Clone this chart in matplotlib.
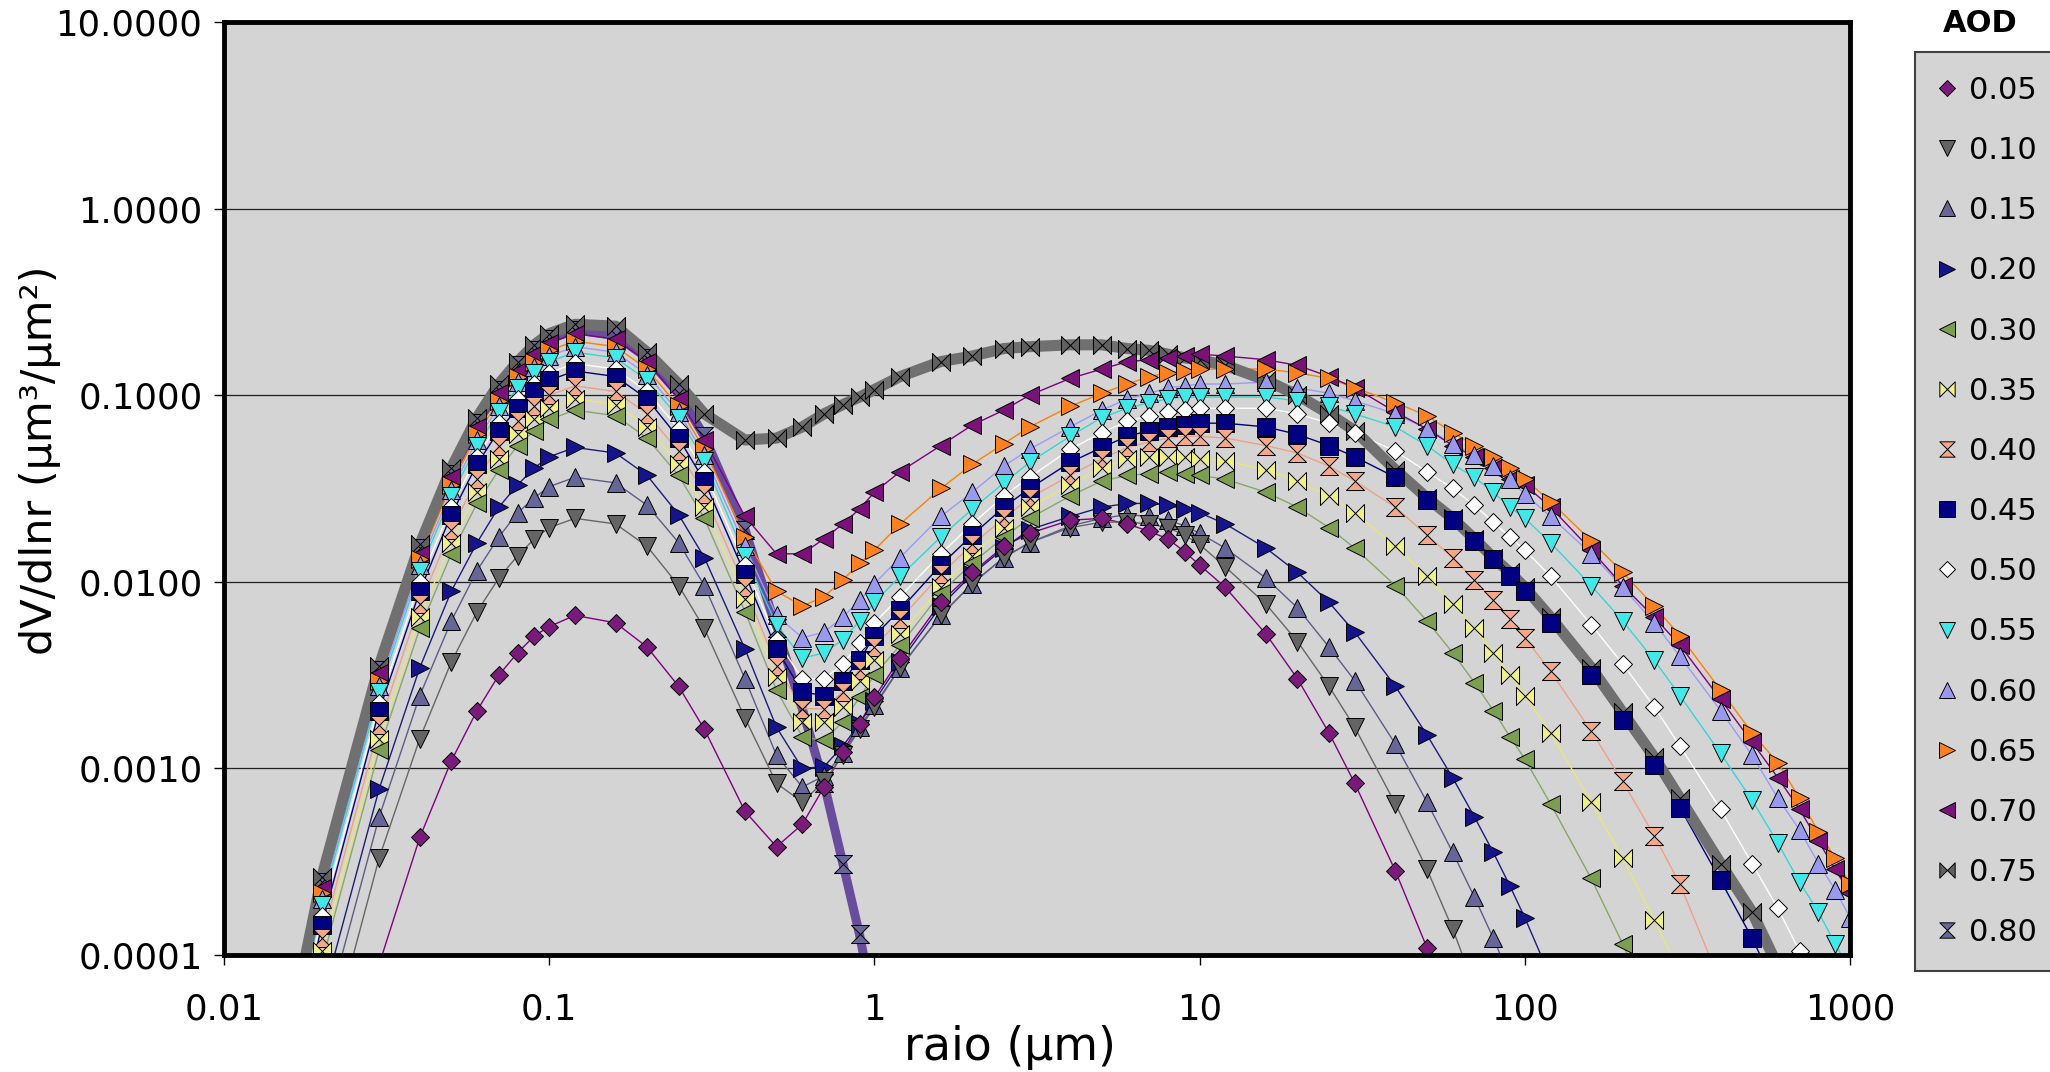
import numpy as np
import matplotlib
matplotlib.use("Agg")
import matplotlib.pyplot as plt
from matplotlib.path import Path
from matplotlib.lines import Line2D
from matplotlib.ticker import NullLocator

nan = np.nan

# raio (um) - pontos comuns a todas as curvas
raio = [0.016, 0.02, 0.03, 0.04, 0.05, 0.06, 0.07, 0.08, 0.09,
        0.1, 0.12, 0.16, 0.2, 0.25, 0.3, 0.4, 0.5, 0.6, 0.7, 0.8, 0.9,
        1, 1.2, 1.6, 2, 2.5, 3, 4, 5, 6, 7, 8, 9,
        10, 12, 16, 20, 25, 30, 40, 50, 60, 70, 80, 90,
        100, 120, 160, 200, 250, 300, 400, 500, 600, 700, 800, 900, 1000]

# log10(dV/dlnr) (nan = fora da area do grafico)
aod_005 = [nan, nan, -4.05, -3.37, -2.96, -2.69, -2.50, -2.38, -2.29,
           -2.24, -2.18, -2.22, -2.35, -2.56, -2.79, -3.23, -3.42, -3.30, -3.10, -2.91, -2.76,
           -2.62, -2.41, -2.11, -1.95, -1.81, -1.74, -1.67, -1.66, -1.69, -1.73, -1.77, -1.84,
           -1.91, -2.03, -2.28, -2.52, -2.81, -3.08, -3.55, -3.96, -4.35, nan, nan, nan,
           nan, nan, nan, nan, nan, nan, nan, nan, nan, nan, nan, nan, nan]
aod_010 = [nan, -4.63, -3.48, -2.84, -2.43, -2.16, -1.98, -1.86, -1.77,
           -1.71, -1.66, -1.69, -1.81, -2.02, -2.25, -2.73, -3.08, -3.18, -3.07, -2.93, -2.79,
           -2.67, -2.46, -2.18, -2.01, -1.87, -1.79, -1.71, -1.68, -1.68, -1.69, -1.71, -1.75,
           -1.80, -1.92, -2.12, -2.32, -2.56, -2.78, -3.19, -3.54, -3.86, -4.17, nan, nan,
           nan, nan, nan, nan, nan, nan, nan, nan, nan, nan, nan, nan, nan]
aod_015 = [nan, -4.40, -3.26, -2.61, -2.21, -1.94, -1.76, -1.63, -1.55,
           -1.49, -1.44, -1.47, -1.59, -1.79, -2.02, -2.52, -2.93, -3.10, -3.04, -2.92, -2.78,
           -2.66, -2.46, -2.18, -2.01, -1.87, -1.79, -1.70, -1.66, -1.64, -1.65, -1.67, -1.70,
           -1.74, -1.82, -1.98, -2.14, -2.35, -2.53, -2.87, -3.18, -3.45, -3.69, -3.91, -4.12,
           nan, nan, nan, nan, nan, nan, nan, nan, nan, nan, nan, nan, nan]
aod_020 = [nan, -4.25, -3.11, -2.46, -2.05, -1.79, -1.60, -1.48, -1.39,
           -1.33, -1.28, -1.31, -1.43, -1.64, -1.87, -2.36, -2.78, -3.00, -2.99, -2.88, -2.76,
           -2.64, -2.43, -2.13, -1.96, -1.82, -1.72, -1.65, -1.60, -1.58, -1.58, -1.59, -1.61,
           -1.63, -1.69, -1.82, -1.95, -2.11, -2.27, -2.56, -2.82, -3.05, -3.26, -3.45, -3.63,
           -3.80, -4.12, nan, nan, nan, nan, nan, nan, nan, nan, nan, nan, nan]
aod_030 = [-4.80, -4.04, -2.90, -2.25, -1.85, -1.58, -1.40, -1.27, -1.19,
           -1.13, -1.08, -1.11, -1.23, -1.43, -1.66, -2.16, -2.58, -2.83, -2.85, -2.75, -2.62,
           -2.50, -2.34, -2.06, -1.90, -1.76, -1.66, -1.54, -1.46, -1.43, -1.42, -1.41, -1.42,
           -1.43, -1.45, -1.52, -1.60, -1.71, -1.82, -2.02, -2.21, -2.38, -2.54, -2.69, -2.83,
           -2.95, -3.19, -3.59, -3.94, -4.35, nan, nan, nan, nan, nan, nan, nan, nan]
aod_035 = [-4.74, -3.98, -2.84, -2.19, -1.79, -1.52, -1.34, -1.21, -1.13,
           -1.07, -1.02, -1.05, -1.17, -1.37, -1.60, -2.09, -2.51, -2.75, -2.75, -2.67, -2.53,
           -2.42, -2.28, -2.03, -1.86, -1.71, -1.60, -1.48, -1.39, -1.34, -1.33, -1.33, -1.33,
           -1.34, -1.35, -1.40, -1.46, -1.54, -1.63, -1.81, -1.97, -2.12, -2.25, -2.38, -2.50,
           -2.61, -2.81, -3.18, -3.48, -3.81, -4.10, nan, nan, nan, nan, nan, nan, nan]
aod_040 = [-4.67, -3.91, -2.77, -2.12, -1.72, -1.45, -1.27, -1.14, -1.06,
           -1.00, -0.95, -0.98, -1.10, -1.30, -1.53, -2.03, -2.45, -2.68, -2.68, -2.59, -2.47,
           -2.35, -2.20, -1.96, -1.80, -1.66, -1.55, -1.43, -1.34, -1.28, -1.25, -1.23, -1.22,
           -1.22, -1.23, -1.27, -1.31, -1.38, -1.46, -1.60, -1.75, -1.87, -1.99, -2.10, -2.20,
           -2.30, -2.48, -2.80, -3.07, -3.36, -3.62, -4.15, nan, nan, nan, nan, nan, nan]
aod_045 = [-4.59, -3.84, -2.69, -2.05, -1.64, -1.37, -1.19, -1.07, -0.98,
           -0.92, -0.87, -0.90, -1.02, -1.23, -1.46, -1.96, -2.36, -2.59, -2.61, -2.53, -2.42,
           -2.29, -2.15, -1.91, -1.75, -1.60, -1.50, -1.36, -1.28, -1.22, -1.19, -1.17, -1.16,
           -1.15, -1.15, -1.17, -1.21, -1.27, -1.33, -1.44, -1.56, -1.67, -1.78, -1.88, -1.97,
           -2.05, -2.22, -2.50, -2.74, -2.98, -3.21, -3.60, -3.91, -4.20, nan, nan, nan, nan]
aod_050 = [-4.55, -3.79, -2.65, -2.00, -1.60, -1.33, -1.15, -1.02, -0.94,
           -0.88, -0.83, -0.86, -0.98, -1.18, -1.41, -1.91, -2.31, -2.52, -2.52, -2.44, -2.33,
           -2.22, -2.08, -1.85, -1.69, -1.54, -1.44, -1.29, -1.20, -1.14, -1.11, -1.09, -1.08,
           -1.07, -1.07, -1.07, -1.10, -1.15, -1.20, -1.30, -1.41, -1.50, -1.59, -1.68, -1.76,
           -1.83, -1.97, -2.23, -2.44, -2.67, -2.88, -3.22, -3.51, -3.75, -3.98, -4.20, nan, nan]
aod_055 = [-4.49, -3.73, -2.59, -1.94, -1.54, -1.27, -1.09, -0.96, -0.88,
           -0.82, -0.77, -0.80, -0.92, -1.12, -1.35, -1.86, -2.23, -2.41, -2.38, -2.31, -2.21,
           -2.11, -1.97, -1.76, -1.61, -1.47, -1.36, -1.22, -1.12, -1.07, -1.04, -1.02, -1.01,
           -1.01, -1.01, -1.01, -1.03, -1.06, -1.10, -1.17, -1.27, -1.37, -1.44, -1.52, -1.60,
           -1.66, -1.79, -2.02, -2.21, -2.42, -2.61, -2.92, -3.17, -3.40, -3.61, -3.77, -3.94, -4.08]
aod_060 = [-4.46, -3.70, -2.56, -1.91, -1.51, -1.24, -1.06, -0.93, -0.85,
           -0.79, -0.74, -0.77, -0.89, -1.09, -1.32, -1.81, -2.18, -2.30, -2.27, -2.19, -2.10,
           -2.01, -1.87, -1.65, -1.52, -1.38, -1.29, -1.17, -1.08, -1.02, -0.99, -0.96, -0.95,
           -0.94, -0.94, -0.93, -0.96, -0.99, -1.03, -1.10, -1.18, -1.26, -1.32, -1.38, -1.45,
           -1.53, -1.65, -1.85, -2.03, -2.22, -2.40, -2.69, -2.93, -3.16, -3.33, -3.51, -3.65, -3.80]
aod_065 = [-4.43, -3.67, -2.53, -1.88, -1.48, -1.21, -1.03, -0.90, -0.82,
           -0.76, -0.71, -0.74, -0.86, -1.06, -1.29, -1.76, -2.05, -2.13, -2.08, -1.99, -1.90,
           -1.83, -1.69, -1.50, -1.37, -1.26, -1.17, -1.06, -0.99, -0.94, -0.90, -0.88, -0.87,
           -0.86, -0.86, -0.86, -0.88, -0.91, -0.96, -1.04, -1.11, -1.20, -1.27, -1.33, -1.39,
           -1.45, -1.57, -1.78, -1.95, -2.13, -2.29, -2.58, -2.81, -2.97, -3.16, -3.34, -3.48, -3.62]
aod_070 = [-4.39, -3.64, -2.49, -1.85, -1.44, -1.17, -0.99, -0.87, -0.78,
           -0.72, -0.67, -0.70, -0.82, -1.02, -1.24, -1.65, -1.85, -1.85, -1.77, -1.69, -1.61,
           -1.52, -1.41, -1.27, -1.16, -1.08, -1.00, -0.91, -0.86, -0.82, -0.81, -0.80, -0.79,
           -0.78, -0.79, -0.81, -0.84, -0.90, -0.96, -1.09, -1.18, -1.27, -1.33, -1.39, -1.45,
           -1.48, -1.60, -1.83, -2.02, -2.19, -2.34, -2.63, -2.86, -3.05, -3.22, -3.39, -3.54, -3.67]
aod_075 = [-4.40, -3.58, -2.45, -1.80, -1.39, -1.12, -0.94, -0.82, -0.73,
           -0.67, -0.62, -0.63, -0.77, -0.94, -1.10, -1.24, -1.23, -1.17, -1.10, -1.05, -1.01,
           -0.97, -0.90, -0.82, -0.79, -0.75, -0.74, -0.73, -0.73, -0.75, -0.76, -0.78, -0.80,
           -0.81, -0.84, -0.92, -1.00, -1.10, -1.19, -1.40, -1.55, -1.66, -1.77, -1.87, -1.95,
           -2.03, -2.19, -2.46, -2.70, -2.94, -3.16, -3.51, -3.77, -4.06, nan, nan, nan, nan]
aod_080 = [-4.37, -3.61, -2.47, -1.82, -1.42, -1.15, -0.97, -0.84, -0.76,
           -0.70, -0.65, -0.68, -0.80, -0.99, -1.22, -1.72, -2.25, -2.68, -3.08, -3.51, -3.89,
           -4.30, nan, nan, nan, nan, nan, nan, nan, nan, nan, nan, nan,
           nan, nan, nan, nan, nan, nan, nan, nan, nan, nan, nan, nan,
           nan, nan, nan, nan, nan, nan, nan, nan, nan, nan, nan, nan, nan]

series = [aod_005, aod_010, aod_015, aod_020, aod_030, aod_035, aod_040, aod_045,
          aod_050, aod_055, aod_060, aod_065, aod_070, aod_075, aod_080]
aod_labels = ["0.05", "0.10", "0.15", "0.20", "0.30", "0.35", "0.40", "0.45",
              "0.50", "0.55", "0.60", "0.65", "0.70", "0.75", "0.80"]

x_ticks = [0.01, 0.1, 1, 10, 100, 1000]
x_tick_labels = ["0.01", "0.1", "1", "10", "100", "1000"]
y_ticks = [0.0001, 0.001, 0.01, 0.1, 1, 10]
y_tick_labels = ["0.0001", "0.0010", "0.0100", "0.1000", "1.0000", "10.0000"]

# marcadores tipo Excel
bowtie = Path([(-1, 1), (-1, -1), (1, 1), (1, -1), (-1, 1)],
              [Path.MOVETO, Path.LINETO, Path.LINETO, Path.LINETO, Path.CLOSEPOLY])
hourglass = Path([(-1, 1), (1, 1), (-1, -1), (1, -1), (-1, 1)],
                 [Path.MOVETO, Path.LINETO, Path.LINETO, Path.LINETO, Path.CLOSEPOLY])

# (marcador, tamanho, cor do marcador, cor da linha, espessura, zorder da linha)
estilos = [
    ("D", 9, "#7a1a7a", "#800080", 1.0, 2.00),
    ("v", 13, "#646464", "#666666", 1.0, 2.01),
    ("^", 13, "#666699", "#5c5c8a", 1.0, 2.02),
    (">", 13, "#14148c", "#1c1c80", 1.0, 2.03),
    ("<", 13, "#7b9e51", "#86a866", 1.0, 2.04),
    (bowtie, 13, "#f0f088", "#e8e870", 1.0, 2.05),
    (hourglass, 13, "#f4a888", "#f0a080", 1.0, 2.06),
    ("s", 13, "#000080", "#000080", 1.0, 2.07),
    ("D", 9, "#ffffff", "#ffffff", 1.0, 2.08),
    ("v", 13, "#40e8e8", "#30d8d8", 1.0, 2.09),
    ("^", 13, "#9999ee", "#9999ff", 1.0, 2.10),
    (">", 13, "#ff8020", "#ff8000", 1.0, 2.11),
    ("<", 13, "#7a127a", "#800080", 1.0, 2.12),
    (bowtie, 13, "#606060", "#707070", 8.0, 2.20),
    (hourglass, 13, "#666699", "#6a4c9c", 6.5, 1.90),
]

plt.rcParams["font.family"] = ["DejaVu Sans"]

fig = plt.figure(figsize=(20.5, 10.72), dpi=100)
ax = fig.add_axes([224 / 2050, 1 - 955 / 1072, (1850 - 224) / 2050, (955 - 22) / 1072])
ax.set_facecolor("#d4d4d4")
ax.set_xscale("log")
ax.set_yscale("log")

for yv in y_ticks:
    ax.axhline(yv, color="#202020", lw=0.9, zorder=1)

# linhas primeiro (como no Excel), depois os marcadores
for vals, est in zip(series, estilos):
    y = 10 ** np.array(vals)
    ax.plot(raio, y, color=est[3], lw=est[4], zorder=est[5],
            solid_joinstyle="round")

for i in reversed(range(len(series))):
    y = 10 ** np.array(series[i])
    m, ms, fc = estilos[i][0], estilos[i][1], estilos[i][2]
    ax.plot(raio, y, ls="none", marker=m, ms=ms, mfc=fc, mec="black", mew=0.7,
            zorder=5 + (len(series) - i) * 0.01)

ax.set_xlim(0.01, 1000)
ax.set_ylim(0.0001, 10)
ax.set_xticks(x_ticks, x_tick_labels)
ax.set_yticks(y_ticks, y_tick_labels)
ax.xaxis.set_minor_locator(NullLocator())
ax.yaxis.set_minor_locator(NullLocator())
ax.tick_params(direction="out", length=7, width=1, labelsize=25.5, color="black")
ax.tick_params(axis="x", pad=20)
ax.tick_params(axis="y", pad=8.5)
for s in ax.spines.values():
    s.set_linewidth(3.5)
    s.set_color("black")
    s.set_zorder(10)

# legenda
handles = []
for est in estilos:
    handles.append(Line2D([], [], ls="none", marker=est[0], ms=est[1] * 0.85,
                          mfc=est[2], mec="black", mew=0.7))
leg = fig.legend(handles, aod_labels, loc="upper left",
                 bbox_to_anchor=(1915 / 2050, 1 - 52 / 1072), fontsize=22,
                 frameon=True, fancybox=False, edgecolor="#404040",
                 facecolor="#d4d4d4", framealpha=1, borderpad=0.78,
                 labelspacing=1.02, handlelength=0.55, handletextpad=0.45,
                 borderaxespad=0)
leg.get_frame().set_linewidth(1.5)

fig.text(1980 / 2050, 1 - 24 / 1072, "AOD", ha="center", va="center",
         fontsize=22, fontweight="bold")
fig.text(40 / 2050, 1 - 460 / 1072, "dV/dlnr (µm³/µm²)", rotation=90,
         ha="center", va="center", fontsize=31)
fig.text(1010 / 2050, 1 - 1047 / 1072, "raio (µm)", ha="center", va="center",
         fontsize=33)

fig.savefig("out.png", dpi=100)
